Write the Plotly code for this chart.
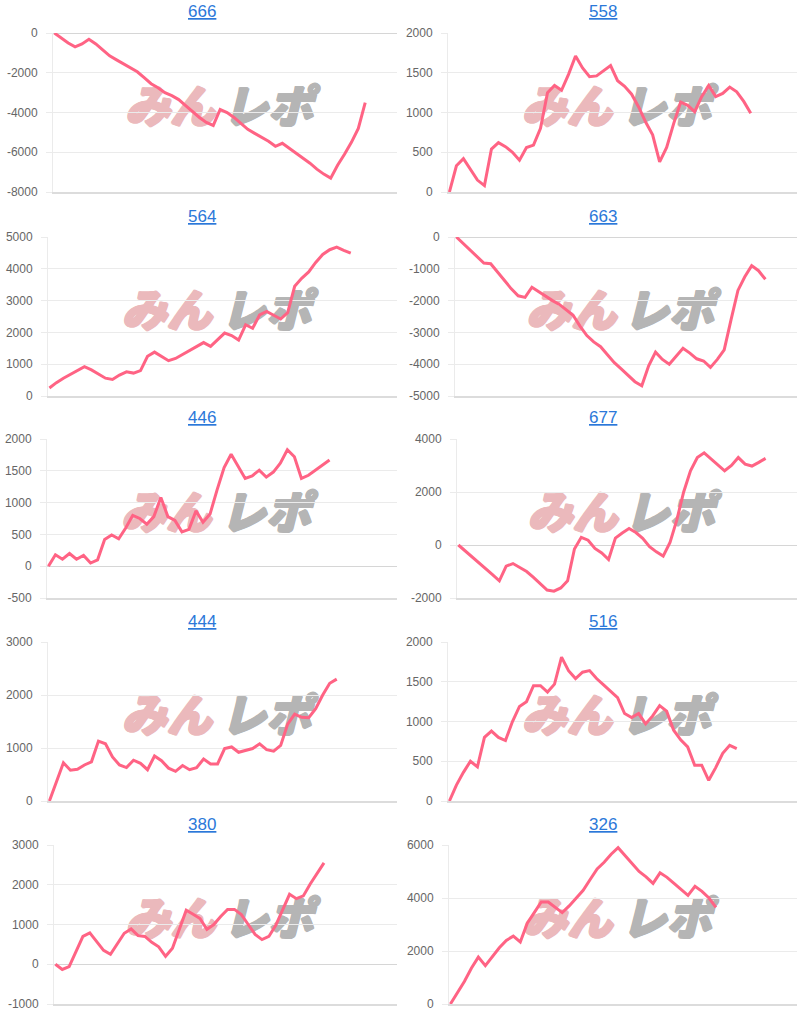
import plotly.graph_objects as go

# ---- data (cumulative balance per sample step) ----
titles = ["666", "558", "564", "663", "446", "677", "444", "516", "380", "326"]

v666 = [0, -250, -500, -700, -550, -320, -550, -850, -1150, -1350, -1550, -1780, -1950,
        -2250, -2550, -2750, -3000, -3150, -3350, -3650, -3950, -4250, -4500, -4650,
        -3850, -4000, -4250, -4550, -4850, -5050, -5250, -5450, -5700, -5550, -5800,
        -6050, -6300, -6550, -6850, -7100, -7300, -6650, -6100, -5500, -4800, -3500]
v558 = [0, 330, 420, 280, 150, 80, 540, 620, 570, 500, 400, 560, 590, 800, 1250, 1340,
        1280, 1480, 1710, 1560, 1450, 1460, 1530, 1590, 1400, 1330, 1230, 1070, 880, 720,
        380, 560, 860, 1130, 1090, 1010, 1200, 1340, 1200, 1240, 1320, 1260, 1140, 990]
v564 = [250, 420, 560, 680, 800, 920, 820, 680, 560, 520, 660, 760, 720, 800, 1250, 1380,
        1240, 1110, 1180, 1300, 1430, 1550, 1680, 1560, 1780, 1980, 1900, 1760, 2240, 2130,
        2550, 2660, 2540, 2420, 2620, 3450, 3700, 3900, 4200, 4450, 4600, 4680, 4580, 4490]
v663 = [0, -200, -400, -620, -820, -840, -1100, -1350, -1630, -1850, -1900, -1580, -1720,
        -1870, -2000, -2120, -2280, -2460, -2800, -3100, -3300, -3450, -3700, -3950, -4150,
        -4350, -4550, -4680, -4050, -3620, -3850, -4000, -3750, -3500, -3650, -3830, -3900,
        -4100, -3850, -3550, -2600, -1680, -1250, -900, -1060, -1330]
v446 = [0, 180, 110, 200, 110, 170, 50, 100, 420, 490, 430, 600, 800, 750, 660, 780, 1080,
        780, 720, 540, 580, 870, 690, 820, 1200, 1550, 1760, 1560, 1380, 1420, 1510, 1400,
        1480, 1620, 1830, 1720, 1380, 1430, 1510, 1580, 1670]
v677 = [0, -220, -450, -680, -870, -1120, -1350, -800, -700, -850, -1000, -1220, -1450,
        -1700, -1740, -1620, -1350, -150, 290, 180, -130, -300, -550, 260, 450, 620, 470,
        250, -60, -260, -420, 100, 950, 2000, 2800, 3300, 3480, 3250, 3050, 2800, 3000,
        3300, 3050, 2980, 3120, 3270]
v444 = [0, 380, 720, 580, 600, 680, 740, 1130, 1080, 830, 680, 630, 770, 710, 590, 850,
        760, 620, 560, 670, 590, 630, 790, 700, 700, 990, 1020, 920, 950, 990, 1080, 970,
        940, 1050, 1450, 1640, 1580, 1570, 1740, 2000, 2220, 2300]
v516 = [0, 200, 360, 500, 430, 800, 880, 800, 760, 1000, 1190, 1250, 1450, 1450, 1370,
        1470, 1810, 1640, 1540, 1620, 1640, 1540, 1460, 1380, 1300, 1100, 1050, 1100, 970,
        1070, 1200, 1130, 890, 770, 680, 450, 450, 260, 420, 600, 700, 660]
v380 = [0, -130, -60, 320, 700, 790, 560, 350, 250, 500, 780, 890, 720, 700, 550, 440,
        200, 400, 900, 1360, 1260, 1150, 880, 1000, 1200, 1380, 1380, 1250, 1000, 750, 620,
        700, 980, 1380, 1760, 1650, 1720, 2020, 2300, 2550]
v326 = [0, 400, 850, 1350, 1770, 1450, 1800, 2120, 2400, 2560, 2340, 3050, 3450, 3850,
        3850, 3650, 3450, 3700, 4000, 4290, 4700, 5100, 5350, 5650, 5900, 5600, 5300, 5000,
        4800, 4550, 4950, 4780, 4550, 4320, 4100, 4440, 4250, 4000, 3650]

series = [v666, v558, v564, v663, v446, v677, v444, v516, v380, v326]

t666 = [-8000, -6000, -4000, -2000, 0]
t558 = [0, 500, 1000, 1500, 2000]
t564 = [0, 1000, 2000, 3000, 4000, 5000]
t663 = [-5000, -4000, -3000, -2000, -1000, 0]
t446 = [-500, 0, 500, 1000, 1500, 2000]
t677 = [-2000, 0, 2000, 4000]
t444 = [0, 1000, 2000, 3000]
t516 = [0, 500, 1000, 1500, 2000]
t380 = [-1000, 0, 1000, 2000, 3000]
t326 = [0, 2000, 4000, 6000]
ticks = [t666, t558, t564, t663, t446, t677, t444, t516, t380, t326]

# ---- layout geometry (pixels) ----
W, H = 800, 1016
lefts = [53, 448, 48, 455, 47, 457, 48, 448, 54, 449]
row_tops = [33, 237, 439, 642, 845]
row_h = 159
LINE = "rgb(255,99,132)"
GRID = "#ebebeb"


def thick(c):
    return ", ".join(f"{dx}px {dy}px 0 {c}" for dx, dy in
                     ((1, 0), (-1, 0), (0, 1), (0, -1), (1, 1), (-1, -1)))


fig = go.Figure()
layout = dict(width=W, height=H, margin=dict(l=0, r=0, t=0, b=0, autoexpand=False),
              paper_bgcolor="white", plot_bgcolor="white", showlegend=False)
annotations = []
shapes = []

for i, (name, vals, tv) in enumerate(zip(titles, series, ticks)):
    n = i + 1
    row, col = divmod(i, 2)
    left = lefts[i]
    right = 397 if col == 0 else 797
    top = row_tops[row]
    bottom = top + row_h
    xd = [left / W, right / W]
    yd = [1 - bottom / H, 1 - top / H]
    xa = "x" if n == 1 else f"x{n}"
    ya = "y" if n == 1 else f"y{n}"
    fig.add_trace(go.Scatter(x=list(range(len(vals))), y=vals, mode="lines",
                             line=dict(color=LINE, width=3), xaxis=xa, yaxis=ya,
                             hoverinfo="skip"))
    layout["xaxis" if n == 1 else f"xaxis{n}"] = dict(
        domain=xd, range=[-0.2, 49.6], anchor=ya, showgrid=False, zeroline=False,
        showticklabels=False, ticks="", showline=True, linecolor="#dcdcdc", linewidth=2,
        automargin=False, fixedrange=True)
    layout["yaxis" if n == 1 else f"yaxis{n}"] = dict(
        domain=yd, range=[tv[0], tv[-1]], anchor=xa, tickvals=tv,
        ticktext=[str(v) for v in tv], ticks="outside", ticklen=6, tickcolor=GRID,
        gridcolor=GRID, gridwidth=1, showline=True, linecolor=GRID, linewidth=1,
        zeroline=True, zerolinecolor="#d6d6d6", zerolinewidth=1,
        tickfont=dict(family="Liberation Sans, Arial, sans-serif", size=12, color="#666"),
        ticklabelstandoff=6, automargin=False, fixedrange=True)
    # title link
    annotations.append(dict(
        text=name, xref="paper", yref="paper",
        x=(202 if col == 0 else 603) / W, y=1 - (top - 21) / H,
        xanchor="center", yanchor="middle", showarrow=False,
        font=dict(family="Liberation Sans, Arial, sans-serif", size=17, color="#2b78d9",
                  lineposition="under")))
    # watermark logo (behind the line)
    for txt, cx, colr in (("みん", 0.34, "#ebb9bc"), ("レポ", 0.625, "#b5b5b5")):
        shapes.append(dict(
            type="rect", xref=f"{xa} domain", yref=f"{ya} domain",
            x0=cx - 0.14, x1=cx + 0.14, y0=0.40, y1=0.63, layer="below",
            line=dict(width=0), fillcolor="rgba(0,0,0,0)",
            label=dict(text=txt, textposition="middle center",
                       font=dict(family="Noto Sans CJK JP", size=45, color=colr,
                                 weight=900, style="italic", shadow=thick(colr)))))

layout["annotations"] = annotations
layout["shapes"] = shapes
fig.update_layout(**layout)
fig.write_html("out.html")
